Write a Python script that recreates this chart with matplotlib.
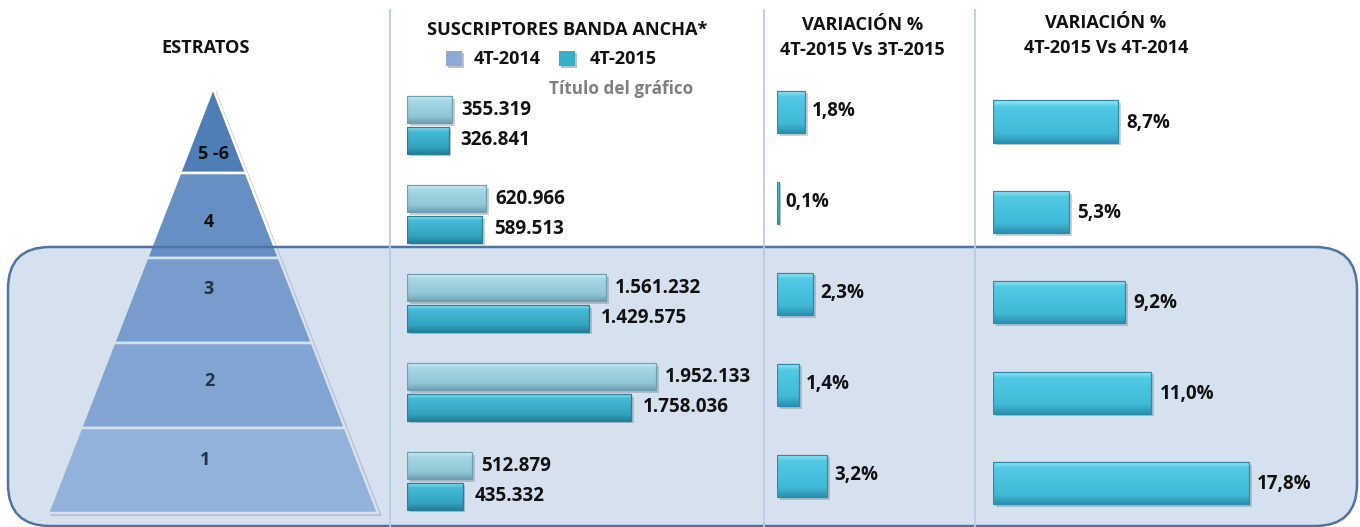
import numpy as np
import matplotlib
matplotlib.use('Agg')
import matplotlib.pyplot as plt
from matplotlib.patches import FancyBboxPatch, Polygon, Rectangle
import matplotlib.patheffects as pe
from matplotlib.colors import to_rgb

# ---------------- data ----------------
estratos = ['5 -6', '4', '3', '2', '1']
susc_4t2014 = [355319, 620966, 1561232, 1952133, 512879]
susc_4t2015 = [326841, 589513, 1429575, 1758036, 435332]
var_trim = [1.8, 0.1, 2.3, 1.4, 3.2]      # 4T-2015 vs 3T-2015
var_anual = [8.7, 5.3, 9.2, 11.0, 17.8]   # 4T-2015 vs 4T-2014
serie_labels = ['4T-2014', '4T-2015']

def fmt_miles(v):
    return f"{v:,}".replace(',', '.')

def fmt_pct(v):
    return f"{v:.1f}%".replace('.', ',')

# ---------------- figure ----------------
W, H = 1360, 527
plt.rcParams['font.family'] = ['Open Sans', 'DejaVu Sans']
fig = plt.figure(figsize=(13.6, 5.27), dpi=100)
fig.patch.set_facecolor('white')

def px_axes(left, top, right, bottom, z=1):
    ax = fig.add_axes([left / W, 1 - bottom / H, (right - left) / W, (bottom - top) / H])
    ax.set_zorder(z)
    ax.patch.set_alpha(0)
    return ax

bg = px_axes(0, 0, W, H, z=0)
bg.set_xlim(0, W)
bg.set_ylim(H, 0)
bg.axis('off')

# ---------------- pyramid ----------------
n = len(estratos)
apex_x, apex_y, base_y, base_hw = 213, 88, 513, 165
layer_cols = ['#4F7EB6', '#6690C4', '#7EA2CF', '#8FAED8', '#A3BEE2']
bounds = np.linspace(apex_y, base_y, n + 1)
hw = lambda y: base_hw * (y - apex_y) / (base_y - apex_y)

shadow = Polygon([(apex_x + 3, apex_y + 2), (apex_x + base_hw + 4, base_y + 3),
                  (apex_x - base_hw + 2, base_y + 3)], closed=True,
                 facecolor='#9E9E9E', edgecolor='none', alpha=0.45, zorder=1)
bg.add_patch(shadow)
for i in range(n):
    y0, y1 = bounds[i], bounds[i + 1]
    pts = [(apex_x - hw(y0), y0), (apex_x + hw(y0), y0),
           (apex_x + hw(y1), y1), (apex_x - hw(y1), y1)]
    bg.add_patch(Polygon(pts, closed=True, facecolor=layer_cols[i],
                         edgecolor='white', lw=1.8, zorder=2))
label_frac = [0.78, 0.58, 0.36, 0.45, 0.38]
label_dx = [0, -4, -5, -4, -8]
for i, lab in enumerate(estratos):
    y = bounds[i] + label_frac[i] * (bounds[i + 1] - bounds[i])
    bg.text(apex_x + label_dx[i], y, lab, ha='center', va='center',
            fontsize=13, fontweight='bold', color='#111111', zorder=3)

# ---------------- rounded highlight box ----------------
box = FancyBboxPatch((8, 247), 1349, 279, boxstyle='round,pad=0,rounding_size=42',
                     facecolor='#648CC8', alpha=0.26, edgecolor='none', zorder=4)
bg.add_patch(box)
box_edge = FancyBboxPatch((8, 247), 1349, 279, boxstyle='round,pad=0,rounding_size=42',
                          facecolor='none', edgecolor='#4F73A3', lw=1.8, zorder=5)
bg.add_patch(box_edge)

# dividers
for xd in [390, 764, 975]:
    bg.plot([xd, xd], [10, H], color='#B9CDE5', lw=1.3, zorder=6)

# ---------------- headers ----------------
hdr = dict(fontsize=13.1, fontweight='bold', color='#111111', ha='center', va='center', zorder=7)
bg.text(206, 48, 'ESTRATOS', **hdr)
bg.text(567, 30, 'SUSCRIPTORES BANDA ANCHA*', **hdr)
bg.text(863, 25, 'VARIACIÓN %', **hdr)
bg.text(862, 50, '4T-2015 Vs 3T-2015', **hdr)
bg.text(1106, 23, 'VARIACIÓN %', **hdr)
bg.text(1106, 48, '4T-2015 Vs 4T-2014', **hdr)
bg.text(621, 89, 'Título del gráfico', fontsize=12.3, fontweight='bold',
        color='#7F7F7F', ha='center', va='center', zorder=7)

# legend
leg_cols = ['#8EA9D3', '#33AFC7']
leg_sq_x = [446, 559]
leg_tx_x = [474, 590]
for c, sx, tx, lab in zip(leg_cols, leg_sq_x, leg_tx_x, serie_labels):
    bg.add_patch(Rectangle((sx, 51), 16, 15, facecolor=c, edgecolor='none', zorder=7,
                           path_effects=[pe.SimplePatchShadow(offset=(1.5, -1.5), alpha=0.3),
                                         pe.Normal()]))
    bg.text(tx, 59, lab, fontsize=13.1, fontweight='bold', color='#111111',
            ha='left', va='center', zorder=7)

# ---------------- bar helpers ----------------
def gradient(stops, N=64):
    pos = np.linspace(0, 1, N)
    sp = [s[0] for s in stops]
    cols = np.array([to_rgb(s[1]) for s in stops])
    arr = np.stack([np.interp(pos, sp, cols[:, k]) for k in range(3)], axis=-1)
    return arr[:, None, :]

grad_light = gradient([(0, '#D2F1F8'), (0.16, '#A6D8E5'), (0.75, '#90C6D6'), (1, '#729FB1')])
grad_dark = gradient([(0, '#8AE6F8'), (0.16, '#45BBD7'), (0.75, '#34A3BF'), (1, '#247E97')])
grad_var = gradient([(0, '#A0ECF9'), (0.15, '#52CAE6'), (0.78, '#40B9D7'), (1, '#2C90AE')])

def fancy_barh(ax, y, vals, h, grad, base, edge):
    # base bar with drop shadow
    cont = ax.barh(y, vals, height=h, color=base, edgecolor='none', zorder=1,
                   path_effects=[pe.SimplePatchShadow(offset=(2, -2), alpha=0.28,
                                                      shadow_rgbFace='#555555'),
                                 pe.Normal()])
    for p in cont.patches:
        x0, y0, w, hh = p.get_x(), p.get_y(), p.get_width(), p.get_height()
        im = ax.imshow(grad, extent=(x0, x0 + w, y0 + hh, y0), origin='upper',
                       aspect='auto', zorder=2, interpolation='bilinear')
        im.set_clip_path(p)
    ax.barh(y, vals, height=h, color='none', edgecolor=edge, lw=0.9, zorder=3)
    return cont

def style_ax(ax, xlim, ylim):
    ax.set_xlim(*xlim)
    ax.set_ylim(*ylim)
    ax.axis('off')

lbl = dict(fontsize=13.5, fontweight='bold', color='#111111', va='center', ha='left', zorder=5)
pos = np.arange(n)

# chart 1: subscribers
ax1 = px_axes(407, 80.5, 751.25, 525.5, z=2)
off = 0.172
fancy_barh(ax1, pos - off, susc_4t2014, 0.30, grad_light, '#96CADA', '#6E9FB1')
fancy_barh(ax1, pos + off, susc_4t2015, 0.30, grad_dark, '#38AAC6', '#26809A')
for i in range(n):
    ax1.annotate(fmt_miles(susc_4t2014[i]), (susc_4t2014[i], pos[i] - off), xytext=(9, 0),
                 textcoords='offset pixels', **lbl)
    ax1.annotate(fmt_miles(susc_4t2015[i]), (susc_4t2015[i], pos[i] + off), xytext=(12, 0),
                 textcoords='offset pixels', **lbl)
style_ax(ax1, (0, 2.7e6), (n - 0.5, -0.5))

# chart 2: quarterly variation
ax2 = px_axes(777, 66.5, 933, 521.5, z=2)
fancy_barh(ax2, pos, var_trim, 0.47, grad_var, '#45BFDE', '#2C8CA9')
for i in range(n):
    ax2.annotate(fmt_pct(var_trim[i]), (var_trim[i], pos[i]), xytext=(7, 1),
                 textcoords='offset pixels', **lbl)
style_ax(ax2, (0, 10), (n - 0.5, -0.5))

# chart 3: annual variation
ax3 = px_axes(993, 76.3, 1338.6, 528.3, z=2)
fancy_barh(ax3, pos, var_anual, 0.465, grad_var, '#45BFDE', '#2C8CA9')
for i in range(n):
    ax3.annotate(fmt_pct(var_anual[i]), (var_anual[i], pos[i]), xytext=(8, -1),
                 textcoords='offset pixels', **lbl)
style_ax(ax3, (0, 24), (n - 0.5, -0.5))

fig.savefig('out.png', dpi=100, facecolor='white')
